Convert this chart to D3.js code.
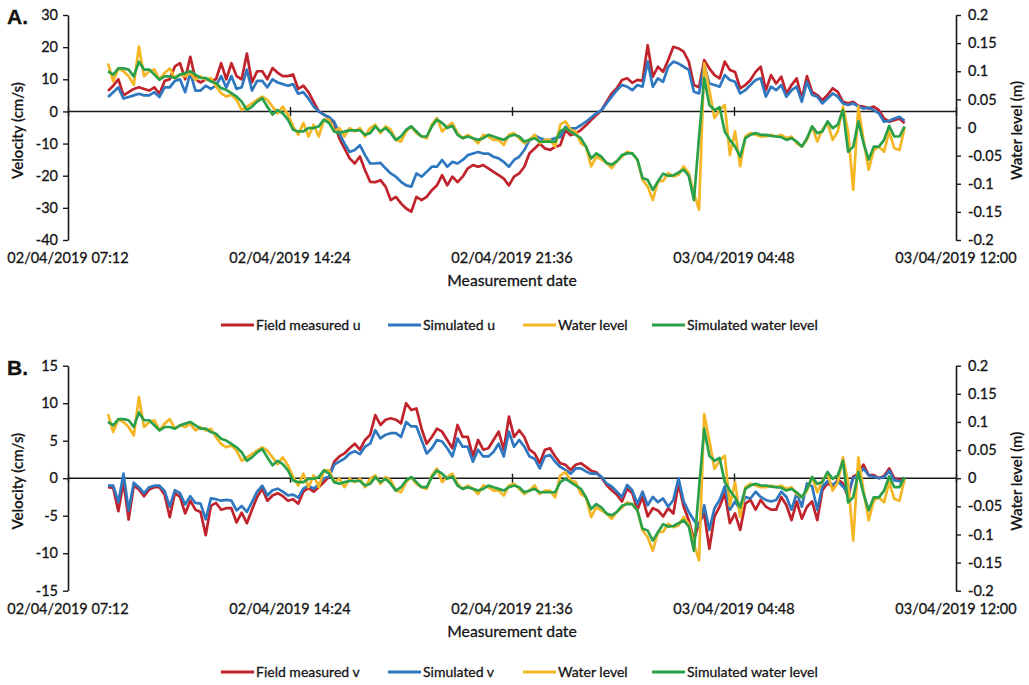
<!DOCTYPE html>
<html>
<head>
<meta charset="utf-8">
<script src="https://cdn.jsdelivr.net/npm/d3@7"></script>
<style>
  body { margin: 0; background: #ffffff; }
  svg { display: block; }
  text { font-family: Lato, "Open Sans", "DejaVu Sans", sans-serif; fill: #141414;
         stroke: #141414; stroke-width: 0.3px; }
</style>
</head>
<body>
<svg id="chart" width="1029" height="685"></svg>
<script>
// Sampling: one reading every 10 minutes from 02/04/2019 08:30
const startTime = "2019-04-02T08:30:00";
const stepMinutes = 10;

// Panel A: east-west velocity u (cm/s)
const uMeasured = [
  6.4, 8, 10, 5, 6, 7, 7.5, 7, 6.5, 7.5, 5.5, 9.5, 10, 14, 15, 10, 17, 10, 9, 10,
  9.5, 10, 15, 10, 15, 11, 10, 18, 9, 12.5, 12.5, 10, 13.5, 12, 11, 11, 11.5, 7, 8, 6,
  3, 0, -1, -2, -3.6, -8.4,
  -11.5, -14.6, -16.2, -14, -18.3, -21.9, -22, -21.4, -23.4, -27.6, -26.6, -28.6, -30.2, -31.2,
  -26.6, -27.6, -26.6, -24.5, -23, -19.8, -23, -20.3, -22, -20.3, -17.7, -16.7, -17.2, -16.7,
  -17.7, -18.8, -19.8, -20.9, -23, -20.3, -19.3, -17.2, -13, -11.5, -10, -11.5, -12, -11, -10.5,
  -5.8, -7.4, -6.8, -5.8, -4.3, -2.7, -1.1, 0.4, 3, 5.6, 7.2, 9.8, 10.3, 8.9, 9.8, 9.5, 20.6,
  10.8, 13.9, 12.3,
  16, 20.1, 19.6, 18.6, 15.5, 8.2, 7.5, 16, 13.4, 11.3, 10.3, 15.5, 12.9, 12.3, 7.2, 8.2, 9.8,
  12.3, 13.9, 6.6, 11.3, 8.7, 10.8, 5.6, 8.2, 10.3, 4, 11, 6.1, 5.1, 3.5, 5.1, 7.2, 6.1, 3, 2.5,
  3, 1.7, 1.5, 0.9, 1.5, 0.4, -2.2, -3.2, -2.7, -2.2, -3.7
];
const uSimulated = [
  4.5, 6, 7.5, 4, 4.5, 5, 5.5, 5, 5, 6, 4.5, 7.5, 7.5, 9.5, 10, 6, 12, 6.5, 6.5, 8,
  7, 8, 11, 7.5, 11, 7, 7.5, 13, 6.5, 9.5, 9.5, 7.5, 10, 9, 8.5, 8, 8.5, 5.5, 6, 4,
  1.5, 0, -1, -1.7, -3.2, -6.8,
  -10, -12.6, -12, -10.5, -13.6, -16.2, -16.2, -16, -17.7, -19.3, -20.3, -21.9, -23, -23.4,
  -19.3, -20.3, -18.8, -17.2, -17.2, -15.1, -17.2, -15.7, -16.2, -15.1, -13.6, -13.1, -12.6, -13.1,
  -13.1, -14.1, -14.6, -15.7, -17.2, -15.1, -14.1, -12, -8.9, -7.4, -8.3, -8.9, -8.9, -8.3, -8,
  -4.8, -5.3, -5.3, -4.3, -3.2, -1.9, -0.6, 0.4, 2.5, 4.6, 6.6, 8.2, 7.7, 6.6, 8.2, 7.7, 15.5,
  7.7, 10.3, 9.2,
  13.9, 15.5, 14.9, 13.9, 12.9, 6.1, 5.6, 14.4, 8.7, 8.2, 7.7, 11.3, 9.8, 9.2, 5.6, 6.6, 8.2,
  9.8, 10.3, 4.6, 7.7, 6.6, 8.2, 4.6, 6.6, 7.7, 3, 9.2, 5.1, 4.6, 2.5, 4, 5.6, 4.6, 2.5, 2,
  2.5, 1.5, 0.9, 1.2, 0.4, -0.6, -3.2, -2.9, -2.2, -1.7, -2.9
];

// Panel B: north-south velocity v (cm/s)
const vMeasured = [
  -1.2, -1.3, -4.4, -0.5, -5.5, -1, -1.5, -2.4, -1.5, -1.2, -1.2, -2.2, -5.2, -2, -2.5, -4.7,
  -3, -4.2, -4.5, -7.6, -3.7, -3.3, -4.2, -4, -4, -5.9, -4.6, -6, -4.2, -2.5, -1.4, -3, -2.3,
  -2, -2.4, -3, -2.8, -3.4, -1.8, -1.3, -1.8, -1.2, -0.5,
  0.2, 2.2, 2.9, 3.3, 4, 4.6, 3.8, 5.1, 5.8, 8.4, 7.1, 7.8, 8, 7.8, 7.3, 10, 9.1, 9.3, 6.6,
  4.6, 5.5, 6.6, 6.2, 5.1, 4, 7.1, 5.5, 5.5, 2.9, 5.1, 3.8, 4, 5.1, 6.2, 3.8, 8.2, 5.5, 6.4,
  5.5, 3.8, 3.3, 2, 3.8, 4, 2.9, 2, 1.8, 1.1, 1.8, 2, 1.5, 1.0, 0.8, 0.1, -0.9, -1.6, -2.2,
  -3.1, -1.4, -2, -4.2, -2.5, -5.1, -4, -4.3, -5.1,
  -4, -4.7, -0.7, -3.8, -5.6, -8.2, -6, -4.7, -9.4, -5.1, -3.8, -2, -6, -4.7, -6.9, -3.4,
  -2.9, -4.2, -2.9, -3.8, -4.2, -4.2, -2.5, -3.6, -5.6, -3.1, -5.4, -3.8, -3.1, -5.6, -1.6,
  -0.7, -1.1, -0.2, -0.7, -2.5, 0.2, 0.6, 1.8, 0.4, 0.4, 0, 0.3, 1.3, 0, -0.2, -0.7
];
const vSimulated = [
  -1, -1, -3.2, 0.6, -4.3, -0.6, -1.2, -2, -1.2, -1, -1, -1.7, -3.8, -1.6, -2, -3.5, -2.4,
  -3.3, -3.4, -5.5, -2.7, -2.8, -3, -2.9, -3, -4.3, -3.7, -4.5, -3.2, -1.8, -1, -2.3, -1.6,
  -1.4, -1.8, -2.3, -2.2, -2.6, -1.4, -1, -1.4, -0.8, 0,
  0.2, 1.8, 2.2, 2.6, 3.3, 3.6, 3.2, 4.2, 4.6, 6.4, 5.3, 5.8, 6, 6, 5.5, 7.5, 6.9, 6.9, 5.1,
  3.3, 4, 5.1, 4.9, 4, 2.9, 5.3, 4.2, 4.2, 2.2, 3.8, 2.9, 2.9, 3.5, 4.6, 2.9, 6.2, 4.2, 5.1,
  4.2, 2.9, 2.6, 1.3, 2.9, 3.1, 2.2, 1.5, 1.1, 0.6, 1.3, 1.3, 0.9, 0.6, 0.6, 0.2, -0.7, -1.1,
  -1.8, -2.5, -0.9, -1.6, -3.4, -1.8, -3.6, -2.5, -3.2, -2.7,
  -3.8, -2.9, 0, -3.1, -4.5, -5.6, -6.5, -3.6, -6.9, -4, -2.9, -1.1, -4.2, -3.1, -4.2, -2.5,
  -2.7, -1.8, -2.5, -2.9, -3.1, -2.9, -1.8, -2.5, -4.2, -2, -3.8, -0.7, -1.1, -4.2, -1.1,
  -0.4, -0.9, -0.4, -1.1, -2, 0, 0.4, 1.3, 0.4, 0.2, 0, 0.1, 1, -0.3, -0.4, -0.7
];

// Water level (m), shared by both panels
const waterLevel = [
  0.114, 0.082, 0.105, 0.1, 0.091, 0.076, 0.144, 0.091, 0.1, 0.103, 0.085, 0.097, 0.105,
  0.088, 0.094, 0.091, 0.097, 0.085, 0.091, 0.085, 0.088, 0.073, 0.061, 0.055, 0.058, 0.049,
  0.031, 0.037, 0.043, 0.049, 0.055, 0.049, 0.037, 0.025, 0.037, 0.023, 0.002, -0.013, 0.008,
  -0.016, 0.005, -0.016, 0.014,
  0.014, -0.007, -0.001, -0.016, -0.001, -0.007, -0.001, -0.016, -0.001, 0.005, -0.010, 0.002,
  -0.004, -0.022, -0.025, -0.007, 0.002, -0.010, -0.016, -0.019, 0.005, 0.017, -0.007, 0.002,
  0.008, -0.010, -0.019, -0.013, -0.019, -0.028, -0.013, -0.016, -0.022, -0.022, -0.031,
  -0.013, -0.010, -0.019, -0.028, -0.022, -0.013, -0.028, -0.022, -0.022, -0.034, 0.005,
  0.011, -0.004, -0.007, -0.028, -0.034, -0.069, -0.052, -0.057, -0.063, -0.072, -0.060,
  -0.052, -0.043, -0.046, -0.057, -0.093, -0.105, -0.129, -0.096, -0.095,
  -0.081, -0.087, -0.084, -0.069, -0.081, -0.117, -0.146, 0.114, 0.067, 0.017, 0.031, 0.040,
  -0.049, -0.007, -0.069, -0.016, -0.010, -0.013, -0.016, -0.016, -0.013, -0.016, -0.013,
  -0.019, -0.016, -0.028, -0.034, -0.022, 0.002, -0.025, -0.004, 0.008, -0.022, -0.007, 0.037,
  -0.007, -0.111, 0.037, -0.022, -0.075, -0.040, -0.034, -0.043, -0.007, -0.037, -0.040, -0.001
];
const waterLevelSimulated = [
  0.100, 0.094, 0.105, 0.105, 0.103, 0.091, 0.117, 0.103, 0.103, 0.094, 0.085, 0.091, 0.091,
  0.088, 0.094, 0.097, 0.100, 0.094, 0.088, 0.088, 0.082, 0.079, 0.070, 0.067, 0.061, 0.055,
  0.046, 0.031, 0.037, 0.046, 0.052, 0.037, 0.023, 0.031, 0.025, 0.014, -0.004, -0.007,
  -0.007, -0.001, -0.001, 0.002, 0.014,
  0.008, -0.007, -0.010, -0.007, -0.005, -0.005, -0.005, -0.013, -0.010, 0.002, -0.007,
  -0.001, -0.010, -0.022, -0.016, -0.004, 0.002, -0.007, -0.016, -0.016, 0.002, 0.014, 0.008,
  -0.001, 0.003, -0.013, -0.019, -0.016, -0.019, -0.022, -0.019, -0.013, -0.016, -0.019,
  -0.022, -0.016, -0.013, -0.016, -0.025, -0.022, -0.019, -0.025, -0.025, -0.025, -0.025,
  -0.007, -0.001, -0.007, -0.013, -0.019, -0.034, -0.055, -0.046, -0.052, -0.063, -0.066,
  -0.060, -0.049, -0.046, -0.046, -0.057, -0.090, -0.093, -0.111, -0.096, -0.082,
  -0.086, -0.085, -0.080, -0.075, -0.086, -0.129, -0.017, 0.088, 0.040, 0.031, 0.036, -0.007,
  -0.022, -0.034, -0.052, -0.019, -0.013, -0.010, -0.013, -0.013, -0.015, -0.016, -0.017,
  -0.022, -0.019, -0.025, -0.034, -0.019, 0.002, -0.010, -0.007, 0.011, -0.001, 0.005, 0.031,
  -0.043, -0.034, 0.011, -0.028, -0.057, -0.034, -0.034, -0.022, 0.003, -0.016, -0.016, 0.002
];

// Axis ticks and labels
const xTickTimes = ["2019-04-02T07:12:00", "2019-04-02T14:24:00", "2019-04-02T21:36:00",
                    "2019-04-03T04:48:00", "2019-04-03T12:00:00"];
const xTickLabels = ["02/04/2019 07:12", "02/04/2019 14:24", "02/04/2019 21:36",
                     "03/04/2019 04:48", "03/04/2019 12:00"];
const uTicks = [30, 20, 10, 0, -10, -20, -30, -40];
const vTicks = [15, 10, 5, 0, -5, -10, -15];
const wlTicks = [0.2, 0.15, 0.1, 0.05, 0, -0.05, -0.1, -0.15, -0.2];
const wlTickLabels = ["0.2", "0.15", "0.1", "0.05", "0", "-0.05", "-0.1", "-0.15", "-0.2"];

const colors = { measured: "#c0232b", simulated: "#2f78c0", water: "#f5b625", waterSim: "#2ba04a" };

const svg = d3.select("#chart");
const left = 68, right = 956;
const t0 = new Date(startTime);
const times = uMeasured.map((_, i) => new Date(t0.getTime() + i * stepMinutes * 60000));
const x = d3.scaleTime()
  .domain([new Date(xTickTimes[0]), new Date(xTickTimes[xTickTimes.length - 1])])
  .range([left, right]);

const panels = [
  { label: "A.", top: 15, bottom: 240, velDomain: [-40, 30], velTicks: uTicks,
    measured: uMeasured, simulated: uSimulated,
    names: ["Field measured u", "Simulated u", "Water level", "Simulated water level"],
    tickY: 263, titleY: 286, legendY: 325 },
  { label: "B.", top: 365.7, bottom: 590.7, velDomain: [-15, 15], velTicks: vTicks,
    measured: vMeasured, simulated: vSimulated,
    names: ["Field measured v", "Simulated v", "Water level", "Simulated water level"],
    tickY: 614, titleY: 637, legendY: 672 }
];

const fmt = d => (d < 0 ? "-" : "") + Math.abs(d);

panels.forEach(p => {
  const yVel = d3.scaleLinear().domain(p.velDomain).range([p.bottom, p.top]);
  const yWl = d3.scaleLinear().domain([-0.2, 0.2]).range([p.bottom, p.top]);
  const g = svg.append("g");

  // left axis
  const la = g.append("g").attr("transform", `translate(${left},0)`)
    .call(d3.axisLeft(yVel).tickValues(p.velTicks).tickSize(5).tickSizeOuter(0)
      .tickPadding(5).tickFormat(fmt));
  // right axis
  const ra = g.append("g").attr("transform", `translate(${right},0)`)
    .call(d3.axisRight(yWl).tickValues(wlTicks).tickSize(5).tickSizeOuter(0)
      .tickPadding(7).tickFormat((d, i) => wlTickLabels[i]));
  [la, ra].forEach(a => {
    a.select(".domain").attr("stroke", "#1a1a1a").attr("stroke-width", 1.6);
    a.selectAll(".tick line").attr("stroke", "#1a1a1a").attr("stroke-width", 1.4);
    a.selectAll(".tick text").style("font-size", "14.5px").style("font-family", "Lato, sans-serif")
      .attr("fill", "#141414");
  });

  // horizontal time axis drawn through velocity zero
  const y0 = yVel(0);
  g.append("line").attr("x1", left).attr("x2", right).attr("y1", y0).attr("y2", y0)
    .attr("stroke", "#1a1a1a").attr("stroke-width", 1.6);
  const xa = g.append("g").attr("transform", `translate(0,${y0 - 4.5})`)
    .call(d3.axisBottom(x).tickValues(xTickTimes.map(s => new Date(s))).tickSize(9)
      .tickSizeOuter(0).tickFormat(""));
  xa.select(".domain").remove();
  xa.selectAll(".tick line").attr("stroke", "#1a1a1a").attr("stroke-width", 1.4);

  // time labels along the bottom of the panel
  g.selectAll(".xlab").data(xTickTimes).enter().append("text")
    .attr("x", d => x(new Date(d))).attr("y", p.tickY)
    .attr("text-anchor", "middle").style("font-size", "14.5px")
    .text((d, i) => xTickLabels[i]);
  g.append("text").attr("x", (left + right) / 2).attr("y", p.titleY)
    .attr("text-anchor", "middle").style("font-size", "15.7px").text("Measurement date");

  // axis titles
  const mid = (p.top + p.bottom) / 2 + 3;
  g.append("text").attr("transform", `translate(23,${mid}) rotate(-90)`)
    .attr("text-anchor", "middle").style("font-size", "15px").style("font-weight", "600")
    .style("stroke-width", "0.2px").text("Velocity (cm/s)");
  g.append("text").attr("transform", `translate(1022,${mid}) rotate(-90)`)
    .attr("text-anchor", "middle").style("font-size", "15px").style("font-weight", "600")
    .style("stroke-width", "0.2px").text("Water level (m)");

  // panel letter
  g.append("text").attr("x", 7).attr("y", p.top + 9)
    .style("font-size", "21px").style("font-weight", "700")
    .style("font-family", "'Liberation Sans', Arial, sans-serif").text(p.label);

  // series
  const velLine = d3.line().x((d, i) => x(times[i])).y(d => yVel(d));
  const wlLine = d3.line().x((d, i) => x(times[i])).y(d => yWl(d));
  const series = [
    { data: p.measured, line: velLine, color: colors.measured },
    { data: p.simulated, line: velLine, color: colors.simulated },
    { data: waterLevel, line: wlLine, color: colors.water },
    { data: waterLevelSimulated, line: wlLine, color: colors.waterSim }
  ];
  series.forEach(s => {
    g.append("path").datum(s.data).attr("d", s.line)
      .attr("fill", "none").attr("stroke", s.color).attr("stroke-width", 2.7)
      .attr("stroke-linejoin", "round");
  });

  // legend
  const legendX = [221, 388, 523, 652];
  const lg = g.append("g");
  series.forEach((s, i) => {
    lg.append("line").attr("x1", legendX[i]).attr("x2", legendX[i] + 33)
      .attr("y1", p.legendY).attr("y2", p.legendY)
      .attr("stroke", s.color).attr("stroke-width", 2.8);
    lg.append("text").attr("x", legendX[i] + 35).attr("y", p.legendY + 5)
      .style("font-size", "14px").text(p.names[i]);
  });
});
</script>
</body>
</html>
